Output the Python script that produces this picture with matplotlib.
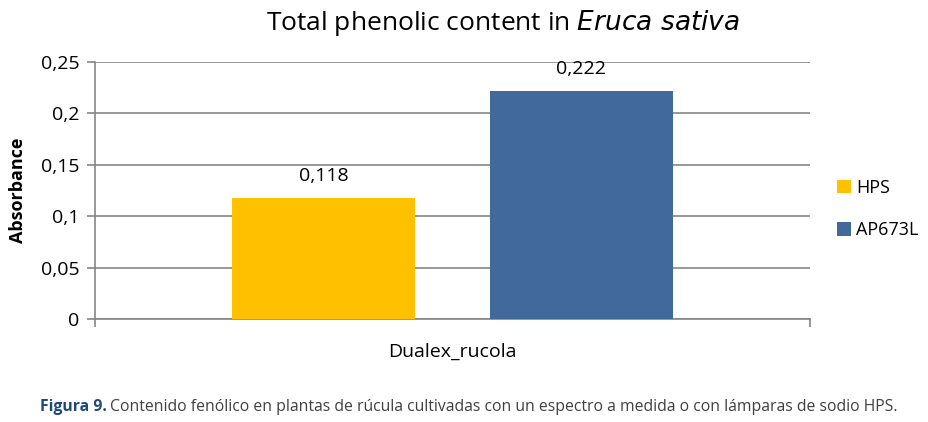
import matplotlib
matplotlib.use("Agg")
import matplotlib.pyplot as plt

categories = ["Dualex_rucola"]
series_names = ["HPS", "AP673L"]
series_values = [[0.118], [0.222]]
value_labels = ["0,118", "0,222"]
yticks = [0, 0.05, 0.1, 0.15, 0.2, 0.25]
ytick_labels = ["0", "0,05", "0,1", "0,15", "0,2", "0,25"]
colors = ["#FFC000", "#41699B"]

plt.rcParams['font.family'] = ['Open Sans', 'DejaVu Sans']

fig = plt.figure(figsize=(9.29, 4.22), dpi=100)
ax = fig.add_axes([95/929, 1-319/422, 715/929, 257/422])

offsets = [-0.18, 0.18]
width = 0.256
for i, (name, vals) in enumerate(zip(series_names, series_values)):
    xs = [j + offsets[i] for j in range(len(categories))]
    bars = ax.bar(xs, vals, width=width, color=colors[i], label=name, zorder=3)
    for b, lab in zip(bars, [value_labels[i]]):
        ax.annotate(lab, (b.get_x() + b.get_width()/2, b.get_height()),
                    xytext=(0, 9), textcoords="offset points",
                    ha="center", va="bottom", fontsize=14, color="#000000")

ax.set_xlim(-0.5, 0.5)
ax.set_ylim(0, 0.25)
ax.set_yticks(yticks)
ax.set_yticklabels(ytick_labels, fontsize=14)
ax.set_xticks([-0.5, 0.5], minor=False)
ax.set_xticklabels(["", ""])
ax.set_xticks([0], minor=True)
ax.set_xticklabels(categories, minor=True, fontsize=14)
ax.tick_params(axis="x", which="minor", length=0, pad=17)
ax.tick_params(axis="x", which="major", length=6, color="#868686", width=1.2)
ax.tick_params(axis="y", length=6, color="#868686", width=1.2, pad=5)

ax.grid(axis="y", color="#868686", linewidth=1.2, zorder=0)
for s in ["top", "right"]:
    ax.spines[s].set_visible(False)
for s in ["left", "bottom"]:
    ax.spines[s].set_color("#868686")
    ax.spines[s].set_linewidth(1.2)

ax.set_ylabel("Absorbance", fontsize=13, fontweight="bold", labelpad=10)

fig.text(503/929, 1-23/422, "Total phenolic content in $\\it{Eruca\\ sativa}$", ha="center", va="center", fontsize=19)

leg = ax.legend(loc="center left", bbox_to_anchor=(1.0, (319-209)/257), frameon=False, fontsize=13,
                handlelength=0.75, handleheight=0.75, labelspacing=1.35, handletextpad=0.3,
                borderpad=0, borderaxespad=1.5)

t1 = fig.text(40/929, 1-407/422, "Figura 9.", fontsize=11.3, fontweight="bold", color="#1F497D", va="center", ha="left")
fig.canvas.draw()
bb = t1.get_window_extent()
fig.text((bb.x1 + 3)/929, 1-407/422, "Contenido fenólico en plantas de rúcula cultivadas con un espectro a medida o con lámparas de sodio HPS.",
         fontsize=11.3, color="#404040", va="center", ha="left")

fig.savefig("out.png", dpi=100)
